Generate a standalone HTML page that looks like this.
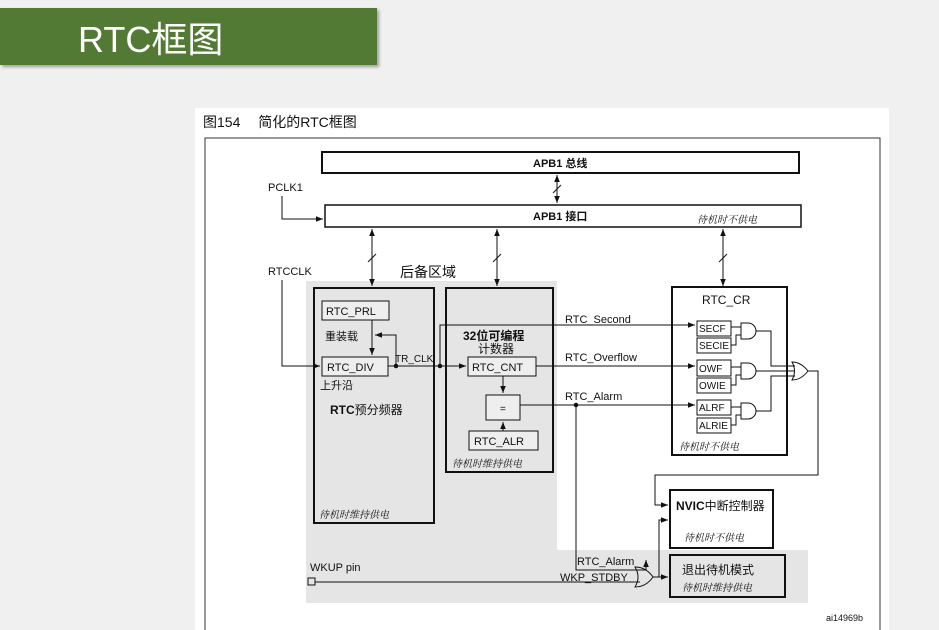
<!DOCTYPE html>
<html><head><meta charset="utf-8"><style>
html,body{margin:0;padding:0;background:#f0f0f0;width:939px;height:630px;overflow:hidden}
svg{position:absolute;left:0;top:0}
text{font-family:"Liberation Sans","Noto Sans CJK SC",sans-serif;fill:#111}
.s{font-size:11px}
.i{font-size:10px;font-style:italic;font-family:"Noto Serif CJK SC","Liberation Serif",serif}
</style></head><body>
<svg width="939" height="630" viewBox="0 0 939 630">
<defs>
<marker id="a" viewBox="0 0 10 10" refX="10" refY="5" markerWidth="7" markerHeight="7" orient="auto-start-reverse"><path d="M0,1L10,5L0,9z" fill="#111"/></marker>
<filter id="sh"><feDropShadow dx="2" dy="2" stdDeviation="1.5" flood-opacity="0.35"/></filter>
</defs>
<rect x="0" y="8" width="377" height="57" fill="#527a35" filter="url(#sh)"/>
<text x="78" y="52" style="font-size:36px;fill:#fff;font-family:'Liberation Sans','Noto Sans CJK SC',sans-serif">RTC框图</text>
<rect x="195" y="108" width="694" height="522" fill="#fff"/>
<text x="203" y="127" style="font-size:14px">图154　 简化的RTC框图</text>
<path d="M205,630V138H880V630" fill="none" stroke="#333" stroke-width="1"/>
<path d="M306,281H557V550H808V603H306Z" fill="#e5e5e5"/>
<g stroke="#111" fill="none" stroke-width="1">
<rect x="322" y="152" width="477" height="21" stroke-width="2" fill="#fff"/>
<rect x="325" y="205" width="476" height="22" stroke-width="1.5" fill="#fff"/>
<line x1="557" y1="175" x2="557" y2="203" marker-start="url(#a)" marker-end="url(#a)"/>
<line x1="553" y1="193" x2="561" y2="185"/>
<path d="M282,196V219H323" marker-end="url(#a)"/>
<line x1="372" y1="229" x2="372" y2="286" marker-start="url(#a)" marker-end="url(#a)"/>
<line x1="368" y1="262" x2="376" y2="254"/>
<line x1="497" y1="229" x2="497" y2="286" marker-start="url(#a)" marker-end="url(#a)"/>
<line x1="493" y1="262" x2="501" y2="254"/>
<line x1="723" y1="229" x2="723" y2="286" marker-start="url(#a)" marker-end="url(#a)"/>
<line x1="719" y1="262" x2="727" y2="254"/>
<rect x="314" y="288" width="120" height="235" stroke-width="2"/>
<rect x="446" y="288" width="107" height="184" stroke-width="2"/>
<rect x="322" y="301" width="67" height="19" fill="#eee"/>
<rect x="322" y="357" width="66" height="19" fill="#eee"/>
<rect x="468" y="357" width="68" height="19" fill="#eee"/>
<rect x="486" y="395" width="34" height="25" fill="#eee"/>
<rect x="469" y="431" width="69" height="19" fill="#eee"/>
<path d="M282,280V366H320" marker-end="url(#a)"/>
<line x1="372" y1="320" x2="372" y2="355" marker-end="url(#a)"/>
<path d="M396,366V335H375" marker-end="url(#a)"/>
<line x1="388" y1="366" x2="466" y2="366" marker-end="url(#a)"/>
<path d="M440,366V325H695" marker-end="url(#a)"/>
<line x1="536" y1="366" x2="695" y2="366" marker-end="url(#a)"/>
<line x1="520" y1="405" x2="695" y2="405" marker-end="url(#a)"/>
<line x1="503" y1="376" x2="503" y2="393" marker-end="url(#a)"/>
<line x1="503" y1="431" x2="503" y2="422" marker-end="url(#a)"/>
<rect x="672" y="287" width="115" height="168" stroke-width="2"/>
<rect x="697" y="321" width="34" height="15"/><rect x="697" y="338" width="34" height="15"/>
<rect x="697" y="360" width="34" height="16"/><rect x="697" y="378" width="34" height="15"/>
<rect x="697" y="400" width="34" height="15"/><rect x="697" y="418" width="34" height="15"/>
<path d="M741,323H748A8,8 0 0 1 748,339H741Z"/>
<path d="M741,363H748A8,8 0 0 1 748,379H741Z"/>
<path d="M741,403H748A8,8 0 0 1 748,419H741Z"/>
<path d="M731,327H741M731,345H736V335H741"/>
<path d="M731,367H741M731,385H736V375H741"/>
<path d="M731,407H741M731,425H736V415H741"/>
<path d="M756,331H771V366H795M756,371H795M756,411H771V376H795"/>
<path d="M792,362Q801,362 808,371Q801,380 792,380Q797,371 792,362Z"/>
<path d="M808,371H818V475H655V505H668" marker-end="url(#a)"/>
<rect x="670" y="490" width="103" height="58" stroke-width="2" fill="#fff"/>
<rect x="670" y="555" width="115" height="42" stroke-width="2"/>
<circle cx="396" cy="366" r="1.8" fill="#111"/><circle cx="440" cy="366" r="1.8" fill="#111"/><circle cx="576" cy="405" r="1.8" fill="#111"/>
<path d="M576,405V570H646V560" marker-end="url(#a)"/>
<rect x="308" y="578" width="7" height="7"/>
<path d="M315,582H640"/>
<path d="M635,567Q646,567 653,577Q646,587 635,587Q641,577 635,567Z"/>
<line x1="653" y1="577" x2="668" y2="577" marker-end="url(#a)"/>
<path d="M659,577V520H668" marker-end="url(#a)"/>
</g>
<text x="533" y="167" style="font-size:11px;font-weight:bold">APB1 总线</text>
<text x="533" y="220" style="font-size:11px;font-weight:bold">APB1 接口</text>
<text x="697" y="223" class="i">待机时不供电</text>
<text x="268" y="191" class="s">PCLK1</text>
<text x="268" y="275" class="s">RTCCLK</text>
<text x="400" y="277" style="font-size:14px">后备区域</text>
<text x="326" y="315" class="s">RTC_PRL</text>
<text x="325" y="340" class="s">重装载</text>
<text x="327" y="371" class="s">RTC_DIV</text>
<text x="320" y="389" class="s">上升沿</text>
<text x="330" y="414" style="font-size:12px"><tspan font-weight="bold">RTC</tspan>预分频器</text>
<text x="319" y="518" class="i">待机时维持供电</text>
<text x="395" y="362" style="font-size:10px">TR_CLK</text>
<text x="463" y="340" style="font-size:12px;font-weight:bold">32位可编程</text>
<text x="478" y="353" style="font-size:12px">计数器</text>
<text x="472" y="371" class="s">RTC_CNT</text>
<text x="500" y="412" style="font-size:10px">=</text>
<text x="474" y="445" class="s">RTC_ALR</text>
<text x="452" y="467" class="i">待机时维持供电</text>
<text x="565" y="323" class="s">RTC_Second</text>
<text x="565" y="361" class="s">RTC_Overflow</text>
<text x="565" y="400" class="s">RTC_Alarm</text>
<text x="702" y="304" style="font-size:12px">RTC_CR</text>
<g style="font-size:10px">
<text x="699" y="332">SECF</text><text x="699" y="349">SECIE</text>
<text x="699" y="372">OWF</text><text x="699" y="389">OWIE</text>
<text x="699" y="411">ALRF</text><text x="699" y="429">ALRIE</text>
</g>
<text x="679" y="450" class="i">待机时不供电</text>
<text x="676" y="510" style="font-size:12px;font-weight:bold">NVIC<tspan font-weight="normal">中断控制器</tspan></text>
<text x="684" y="541" class="i">待机时不供电</text>
<text x="682" y="574" style="font-size:12px">退出待机模式</text>
<text x="682" y="591" class="i">待机时维持供电</text>
<text x="310" y="571" class="s">WKUP pin</text>
<text x="577" y="565" class="s">RTC_Alarm</text>
<text x="560" y="581" class="s">WKP_STDBY</text>
<text x="826" y="621" style="font-size:9px">ai14969b</text>
</svg>
</body></html>
